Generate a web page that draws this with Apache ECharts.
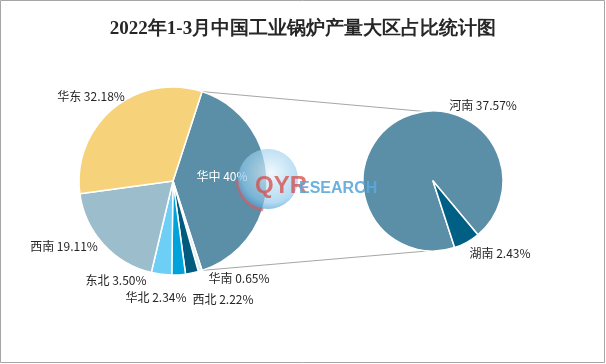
<!DOCTYPE html>
<html>
<head>
<meta charset="utf-8">
<script src="https://cdn.jsdelivr.net/npm/echarts@6/dist/echarts.min.js"></script>
<style>
html,body{margin:0;padding:0;background:#fff;}
#chart{width:606px;height:364px;}
</style>
</head>
<body>
<div id="chart"></div>
<script>
// ---- data ----
const titleText = '2022年1-3月中国工业锅炉产量大区占比统计图';
const regions = ['华中', '华南', '西北', '华北', '东北', '西南', '华东'];
const regionShares = [40, 0.65, 2.22, 2.34, 3.50, 19.11, 32.18];
const subRegions = ['河南', '湖南'];
const subShares = [37.57, 2.43];

// ---- styles / layout ----
const regionColors = ['#5B8FA7', '#E4ECF0', '#005B7F', '#00A2DA', '#6DCFF5', '#9CBDCB', '#F6D37B'];
const subColors = ['#5B8FA7', '#005F85'];
const mainCenter = [173, 181], mainR = 94;
const subCenter = [433, 181], subR = 70;
const mainStart = 72;   // degrees, ECharts convention
const subStart = -72;
const mainLabelPos = {
  '华中': [222, 176], '华南': [239, 278], '西北': [223, 299], '华北': [156, 297],
  '东北': [116, 280], '西南': [64, 246], '华东': [91, 96]
};
const subLabelPos = { '河南': [483, 105], '湖南': [500, 253] };

function fmt(v) { return (Number.isInteger(v) ? v : v.toFixed(2)) + '%'; }

const chart = echarts.init(document.getElementById('chart'), null, { renderer: 'canvas' });

// connector lines from the 华中 slice edges to top/bottom of secondary pie
const spanDeg = regionShares[0] / regionShares.reduce((a, b) => a + b, 0) * 360;
const a1 = mainStart * Math.PI / 180, a2 = (mainStart - spanDeg) * Math.PI / 180;
const p1 = [mainCenter[0] + mainR * Math.cos(a1), mainCenter[1] - mainR * Math.sin(a1)];
const p2 = [mainCenter[0] + mainR * Math.cos(a2), mainCenter[1] - mainR * Math.sin(a2)];
const q1 = [subCenter[0] - 3, subCenter[1] - subR + 1];
const q2 = [subCenter[0] - 6, subCenter[1] + subR];

const labelStyle = { color: '#262626', fontSize: 12, overflow: 'none', fontFamily: '"Noto Sans CJK SC", "Noto Sans", sans-serif' };

const option = {
  backgroundColor: '#ffffff',
  animation: false,
  title: {
    text: titleText, left: 'center', top: 15,
    textStyle: { fontFamily: '"Liberation Serif", "DejaVu Serif", serif', fontWeight: 'bold', fontSize: 19, color: '#262626' }
  },
  graphic: [
    { type: 'rect', z: 100, shape: { x: 0.5, y: 0.5, width: 604, height: 362 }, style: { fill: 'none', stroke: '#A6A6A6', lineWidth: 1 } },
    { type: 'line', z: 1, shape: { x1: p1[0], y1: p1[1], x2: q1[0], y2: q1[1] }, style: { stroke: '#A6A6A6', lineWidth: 1 } },
    { type: 'line', z: 1, shape: { x1: p2[0], y1: p2[1], x2: q2[0], y2: q2[1] }, style: { stroke: '#A6A6A6', lineWidth: 1 } },
    // watermark
    { type: 'arc', z: 100, shape: { cx: 268, cy: 180, r: 30, startAngle: Math.PI * 0.55, endAngle: Math.PI * 1.0 }, style: { stroke: 'rgba(226,90,90,0.6)', lineWidth: 4, fill: 'none' } },
    { type: 'circle', z: 100, shape: { cx: 268, cy: 179, r: 30 }, style: {
        fill: new echarts.graphic.RadialGradient(0.55, 0.4, 0.7, [
          { offset: 0, color: 'rgba(235,246,252,0.7)' },
          { offset: 0.7, color: 'rgba(140,200,235,0.65)' },
          { offset: 1, color: 'rgba(40,130,200,0.7)' }
        ]) } },
    { type: 'text', z: 101, style: { x: 255, y: 186, text: 'QYR', font: 'bold 24px "Liberation Sans", Arial, sans-serif', fill: 'rgba(214,72,72,0.75)', verticalAlign: 'middle' } },
    { type: 'text', z: 101, style: { x: 299, y: 189, text: 'ESEARCH', font: 'bold 16px "Liberation Sans", Arial, sans-serif', fill: 'rgba(90,168,220,0.9)', verticalAlign: 'middle' } }
  ],
  series: [
    {
      type: 'pie', z: 2, center: mainCenter, radius: mainR, startAngle: mainStart, clockwise: true,
      itemStyle: { borderColor: '#ffffff', borderWidth: 1.5 },
      label: Object.assign({ show: true, position: 'outside', formatter: p => p.name + ' ' + fmt(p.value) }, labelStyle),
      labelLine: { show: false },
      labelLayout: p => {
        const pos = mainLabelPos[regions[p.dataIndex]];
        return { x: pos[0], y: pos[1], align: 'center', verticalAlign: 'middle' };
      },
      data: regions.map((n, i) => ({
        name: n, value: regionShares[i], itemStyle: { color: regionColors[i] },
        label: i === 0 ? { color: '#ffffff' } : {}
      })),
      emphasis: { disabled: true }
    },
    {
      type: 'pie', z: 2, center: subCenter, radius: subR, startAngle: subStart, clockwise: true,
      itemStyle: { borderColor: '#ffffff', borderWidth: 1.5 },
      label: Object.assign({ show: true, position: 'outside', formatter: p => p.name + ' ' + fmt(p.value) }, labelStyle),
      labelLine: { show: false },
      labelLayout: p => {
        const pos = subLabelPos[subRegions[p.dataIndex]];
        return { x: pos[0], y: pos[1], align: 'center', verticalAlign: 'middle' };
      },
      data: subRegions.map((n, i) => ({ name: n, value: subShares[i], itemStyle: { color: subColors[i] } })),
      emphasis: { disabled: true }
    }
  ]
};
chart.setOption(option);
</script>
</body>
</html>
